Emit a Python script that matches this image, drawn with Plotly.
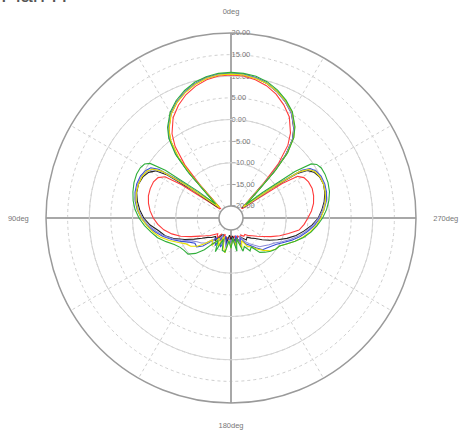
import plotly.graph_objects as go

theta = [0, 5, 10, 15, 20, 25, 30, 35, 38, 41, 43, 45, 48, 51, 54, 56, 58, 61, 65, 70,
         75, 80, 85, 90, 95, 100, 105, 110, 115, 120, 125, 130, 135, 140, 145, 150, 155,
         160, 165, 170, 175, 180, 185, 190, 195, 200, 205, 210, 215, 220, 225, 230, 235,
         240, 245, 250, 255, 260, 265, 270, 275, 280, 285, 290, 295, 299, 302, 304, 306,
         309, 312, 315, 317, 319, 322, 325, 330, 335, 340, 345, 350, 355, 360]

red = [10.3, 10.2, 9.7, 8.8, 7.6, 6.0, 4.0, 1.0, -1.8, -6.5, -12.0, -17.5, -19.5, -19.4, -16.0,
       -9.0, -4.8, -3.5, -3.0, -2.9, -3.0, -3.4, -4.0, -4.8, -5.8, -7.0, -8.6, -10.4, -12.6,
       -14.4, -15.6, -16.5, -17.4, -18.0, -17.1, -18.5, -17.0, -18.8, -17.4, -18.2, -17.0,
       -18.6, -17.4, -18.6, -17.2, -18.4, -17.6, -18.2, -17.6, -17.8, -17.0, -16.4, -15.4,
       -14.2, -12.6, -10.8, -9.0, -6.8, -5.8, -5.0, -4.1, -3.4, -3.0, -2.8, -3.0, -3.5, -4.6,
       -8.5, -15.5, -19.3, -19.5, -17.0, -11.5, -6.0, -1.4, 1.2, 4.2, 6.1, 7.7, 8.9, 9.7,
       10.2, 10.3]

black = [10.6, 10.5, 10.1, 9.3, 8.2, 6.8, 5.0, 2.3, 0.0, -4.0, -9.0, -16.0, -19.0, -18.6, -12.0,
         -5.0, -2.2, -1.0, -0.3, 0.0, -0.2, -0.8, -1.6, -2.6, -4.0, -5.8, -7.0, -8.8, -11.0,
         -13.0, -14.6, -15.8, -16.4, -17.2, -16.3, -17.8, -18.6, -16.6, -18.3, -16.9, -18.8,
         -17.8, -18.6, -17.2, -18.2, -16.8, -18.0, -17.4, -16.6, -17.0, -16.2, -15.4, -14.0,
         -12.5, -10.9, -9.0, -7.2, -5.6, -4.0, -2.6, -1.7, -0.9, -0.3, 0.0, -0.2, -0.9, -2.0,
         -4.5, -11.0, -18.0, -19.2, -15.5, -8.5, -3.6, 0.3, 2.5, 5.2, 6.9, 8.3, 9.4, 10.1,
         10.5, 10.6]

blue = [10.7, 10.6, 10.2, 9.4, 8.3, 6.9, 5.1, 2.5, 0.2, -3.6, -8.6, -15.5, -18.8, -16.0, -8.0,
        -2.6, -0.9, -0.2, 0.3, 0.4, 0.2, -0.3, -1.0, -2.0, -3.3, -4.8, -6.4, -8.2, -10.0,
        -11.6, -12.6, -12.4, -13.6, -15.8, -17.2, -15.4, -17.8, -15.6, -18.4, -16.2, -18.0,
        -16.6, -18.2, -16.4, -18.6, -16.0, -17.8, -15.8, -15.0, -13.8, -12.4, -12.0, -11.4,
        -10.6, -9.4, -7.8, -6.2, -4.8, -3.4, -2.2, -1.2, -0.4, 0.1, 0.3, 0.2, -0.3, -1.2,
        -3.0, -9.0, -17.0, -19.0, -15.2, -8.2, -3.4, 0.5, 2.7, 5.3, 7.0, 8.4, 9.5, 10.2,
        10.6, 10.7]

slate = [10.6, 10.5, 10.1, 9.3, 8.2, 6.8, 5.0, 2.4, 0.1, -3.8, -8.8, -15.8, -19.0, -17.2, -10.0,
         -3.8, -1.6, -0.6, 0.0, 0.2, 0.0, -0.5, -1.3, -2.3, -3.6, -5.2, -6.8, -8.6, -10.6,
         -12.2, -13.2, -13.8, -14.6, -16.4, -15.2, -17.0, -18.4, -16.2, -17.6, -15.8, -17.8,
         -16.4, -17.6, -15.8, -17.4, -16.6, -18.2, -16.6, -15.6, -14.6, -13.4, -12.8, -12.0,
         -11.2, -9.8, -8.2, -6.6, -5.1, -3.7, -2.5, -1.5, -0.7, -0.1, 0.1, 0.0, -0.6, -1.6,
         -3.8, -10.2, -17.6, -19.1, -15.4, -8.4, -3.5, 0.4, 2.6, 5.2, 6.9, 8.3, 9.4, 10.1,
         10.5, 10.6]

yellow = [10.5, 10.4, 10.0, 9.2, 8.1, 6.7, 4.9, 2.2, -0.2, -4.4, -9.6, -16.5, -19.2, -17.0, -9.5,
          -3.4, -1.4, -0.5, -0.1, 0.0, -0.1, -0.5, -1.1, -2.0, -3.2, -4.4, -5.8, -7.6, -9.4,
          -10.8, -11.4, -12.6, -14.4, -16.2, -15.0, -17.4, -15.6, -18.2, -16.0, -14.6, -17.6,
          -15.8, -18.0, -16.2, -17.8, -15.4, -17.0, -15.2, -14.6, -13.4, -12.2, -11.0, -10.2,
          -9.8, -8.6, -7.0, -5.6, -4.2, -3.0, -2.0, -1.2, -0.6, -0.2, 0.0, -0.1, -0.6, -1.6,
          -3.6, -10.0, -17.2, -19.0, -15.0, -8.0, -3.0, 0.8, 2.9, 5.5, 7.1, 8.4, 9.4, 10.0,
          10.4, 10.5]

green = [10.9, 10.8, 10.4, 9.7, 8.6, 7.2, 5.4, 2.8, 0.6, -3.2, -8.0, -14.5, -18.0, -13.0, -4.0,
         -0.2, 0.8, 1.2, 1.3, 1.1, 0.7, 0.2, -0.5, -1.5, -2.7, -4.0, -5.2, -6.8, -8.3, -9.2,
         -9.6, -9.8, -11.2, -13.2, -15.6, -16.8, -14.2, -17.6, -15.0, -14.8, -17.4, -15.8,
         -18.0, -15.0, -17.8, -14.6, -15.5, -14.0, -14.6, -12.4, -11.6, -10.8, -10.2, -9.8,
         -8.6, -7.0, -5.4, -4.0, -2.8, -1.6, -0.6, 0.2, 0.8, 1.1, 1.2, 1.1, 0.6, -0.4, -4.5,
         -13.5, -18.2, -14.0, -7.6, -2.8, 0.8, 3.0, 5.6, 7.3, 8.7, 9.8, 10.5, 10.8, 10.9]

series = [("red", red, "#ff3b3b"), ("black", black, "#222222"), ("blue", blue, "#3a4fd6"),
          ("slate", slate, "#8c8cd8"), ("yellow", yellow, "#e8e000"), ("green", green, "#2fae3a")]

radial_ticks = [-20, -15, -10, -5, 0, 5, 10, 15, 20]
solid_circles = [-20, -10, 0, 10]
dashed_spokes = [30, 60, 120, 150, 210, 240, 300, 330]
main_spokes = [0, 90, 180, 270]
main_spoke_labels = ["0deg", "90deg", "180deg", "270deg"]

W, H = 462, 431

fig = go.Figure()
# invisible anchor so the grid/label subplot is rendered
fig.add_trace(go.Scatterpolar(r=[20], theta=[0], mode="markers", subplot="polar",
                              marker=dict(size=1, color="rgba(0,0,0,0)"),
                              showlegend=False, hoverinfo="skip"))
for name, vals, color in series:
    fig.add_trace(go.Scatterpolar(r=vals, theta=theta, mode="lines", name=name,
                                  line=dict(color=color, width=1.1), subplot="polar2",
                                  showlegend=False, hoverinfo="skip"))

dom = dict(x=[46 / W, 416 / W], y=[28 / H, 398 / H])
hole = 12 / 185
tickfont = dict(family="Liberation Sans", size=7.5, color="#777777")

fig.update_layout(
    width=W, height=H,
    margin=dict(l=0, r=0, t=0, b=0),
    paper_bgcolor="white",
    showlegend=False,
    polar=dict(
        domain=dom, hole=hole, bgcolor="white",
        radialaxis=dict(range=[-20, 20], tickvals=radial_ticks, tickformat=".2f",
                        showticklabels=True, ticks="", tickfont=tickfont, angle=90,
                        tickangle=90, side="clockwise",
                        gridcolor="#cfcfcf", griddash="dot", gridwidth=1, showline=False),
        angularaxis=dict(rotation=90, direction="counterclockwise", tickvals=dashed_spokes,
                         showticklabels=False, ticks="", gridcolor="#cfcfcf", griddash="dot",
                         gridwidth=1, showline=False),
    ),
    polar2=dict(
        domain=dom, hole=hole, bgcolor="rgba(0,0,0,0)",
        radialaxis=dict(range=[-20, 20], tickvals=solid_circles, showticklabels=False,
                        ticks="", angle=90, gridcolor="#d4d4d4", gridwidth=1, showline=False),
        angularaxis=dict(rotation=90, direction="counterclockwise", tickvals=main_spokes,
                         ticktext=main_spoke_labels, tickfont=tickfont, ticks="outside",
                         ticklen=15, tickcolor="rgba(0,0,0,0)",
                         gridcolor="#a8a8a8", gridwidth=1.5,
                         showline=True, linecolor="#9a9a9a", linewidth=1.5),
    ),
    annotations=[dict(text="Plan H", x=0, y=1, xref="paper", yref="paper",
                      xanchor="left", yanchor="bottom", xshift=-1, yshift=-9,
                      showarrow=False,
                      font=dict(family="Liberation Sans", size=22, color="#555555"))],
)

# remove the default 8px page margin so the figure fills the window exactly
fig.write_html("out.html", config={"displayModeBar": False},
               post_script="document.body.style.margin='0px';")
